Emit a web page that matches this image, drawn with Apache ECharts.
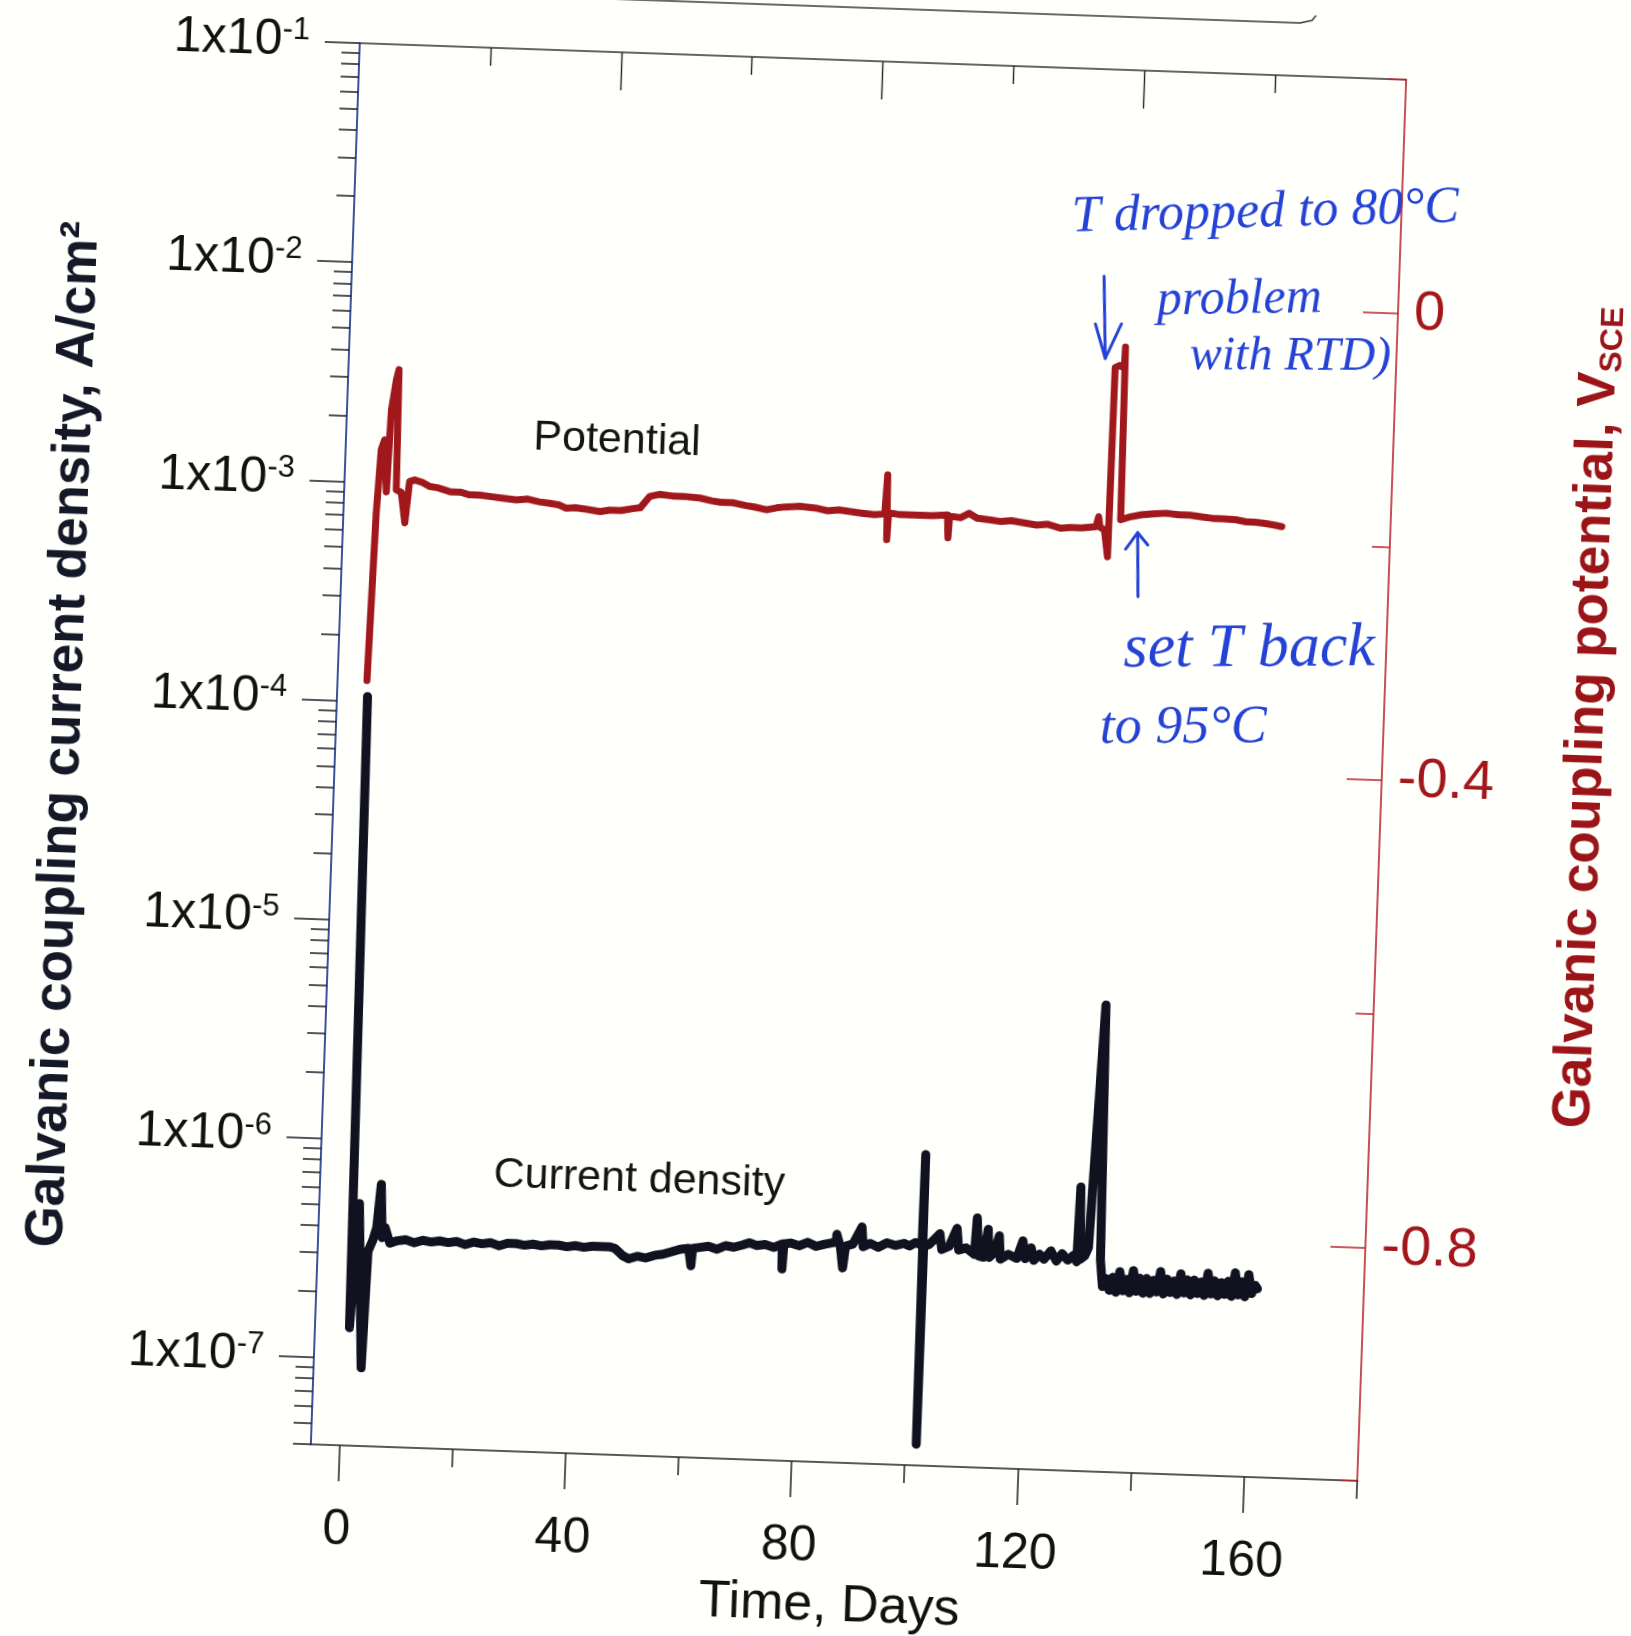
<!DOCTYPE html>
<html lang="en">
<head>
<meta charset="UTF-8"/>
<title>Galvanic coupling current and potential</title>
<script src="https://cdn.jsdelivr.net/npm/echarts@6/dist/echarts.min.js"></script>
<style>
    html, body { margin: 0; padding: 0; background: #fffffb; overflow: hidden; }
    /* the scanned page sits about 2 degrees clockwise */
    #main { position: absolute; left: 0; top: 0; width: 1631px; height: 1636px;
            transform: rotate(2deg); transform-origin: 858.5px 762px; }
</style>
</head>
<body>
<div id="main"></div>
<script type="text/javascript">
    // galvanic coupling current density, A/cm2
    var curDays = [0.4, 1.1, 2.1, 3.4, 3.9, 4.7, 5.3, 5.85, 6.3, 6.8, 7.7, 9, 10.5, 12, 13.5, 15, 16.5, 18, 19.5,
        21, 22.5, 24, 25.5, 27, 28.5, 30, 31.5, 33, 34.5, 36, 37.5, 39, 40.5, 42, 43.5, 45, 46.5, 47.5, 48.9, 50,
        51.5, 53, 54.5, 56, 57.5, 59, 60.5, 61.0, 61.2, 62.5, 64, 65.5, 67, 68.5, 70, 71.2, 72.5, 74, 75.5, 77.0,
        77.1, 77.3, 78.5, 80, 81.5, 83, 84.5, 86.5, 86.6, 87.3, 87.8, 88.2, 89.5, 91.0, 91.3, 92.5, 94, 95.5, 97,
        98.5, 99.5, 100.5, 101.7, 101.8, 101.9, 102.0, 103, 104.8, 105.2, 106.5, 107.8, 108.2, 109.5, 111, 111.3,
        111.7, 112.6, 113.3, 113.6, 114.5, 115.3, 115.6, 117, 118.5, 119.5, 120, 121, 121.5, 122.5, 123.3, 124.5,
        125.5, 126.5, 127.5, 128.5, 129.1, 129.4, 129.7, 130.5, 131.1, 132.7, 133.3, 133.8, 134.5, 135, 135.6,
        136.2, 136.8, 137.4, 138, 138.6, 139.2, 139.8, 140.4, 141, 141.6, 142.2, 142.8, 143.4, 144, 144.6, 145.2,
        145.8, 146.4, 147, 147.6, 148.2, 148.8, 149.4, 150, 150.6, 151.2, 151.8, 152.4, 153, 153.6, 154.2, 154.8,
        155.4, 156, 156.6, 157.2, 157.8, 158.4, 159, 159.6, 160.2, 160.8, 161.2]
    var curVals = [1.05e-4, 1.38e-7, 5.1e-7, 9.1e-8, 3.1e-7, 3.5e-7, 4.0e-7, 6.3e-7, 3.6e-7, 4.0e-7, 3.4e-7, 3.5e-7,
        3.55e-7, 3.45e-7, 3.55e-7, 3.5e-7, 3.55e-7, 3.5e-7, 3.55e-7, 3.45e-7, 3.55e-7, 3.5e-7, 3.55e-7, 3.45e-7, 3.55e-7,
        3.55e-7, 3.5e-7, 3.55e-7, 3.5e-7, 3.55e-7, 3.55e-7, 3.5e-7, 3.55e-7, 3.5e-7, 3.55e-7, 3.55e-7, 3.55e-7, 3.5e-7,
        3.25e-7, 3.15e-7, 3.25e-7, 3.2e-7, 3.3e-7, 3.35e-7, 3.45e-7, 3.55e-7, 3.6e-7, 3.0e-7, 3.6e-7, 3.65e-7, 3.7e-7,
        3.6e-7, 3.75e-7, 3.7e-7, 3.8e-7, 3.9e-7, 3.8e-7, 3.85e-7, 3.75e-7, 3.9e-7, 3.0e-7, 3.9e-7, 3.95e-7, 3.85e-7,
        4.0e-7, 3.85e-7, 3.95e-7, 4.05e-7, 4.4e-7, 3.85e-7, 3.1e-7, 3.9e-7, 4.0e-7, 4.8e-7, 3.9e-7, 4.05e-7, 3.9e-7,
        4.1e-7, 4.0e-7, 4.1e-7, 4.0e-7, 4.15e-7, 4.05e-7, 1.05e-6, 5.0e-8, 4.0e-7, 4.1e-7, 4.6e-7, 3.9e-7, 4.05e-7,
        4.9e-7, 3.9e-7, 4.0e-7, 3.75e-7, 5.5e-7, 3.7e-7, 3.65e-7, 4.9e-7, 3.65e-7, 3.85e-7, 4.6e-7, 3.6e-7, 3.8e-7,
        3.65e-7, 4.4e-7, 3.65e-7, 4.1e-7, 3.6e-7, 3.85e-7, 3.65e-7, 4.0e-7, 3.6e-7, 3.9e-7, 3.65e-7, 3.85e-7, 3.6e-7,
        7.9e-7, 3.7e-7, 3.85e-7, 4.2e-7, 5.4e-6, 3.7e-7, 2.8e-7, 3.05e-7, 2.7e-7, 3.1e-7, 2.65e-7, 3.3e-7, 2.7e-7,
        3.05e-7, 2.65e-7, 3.35e-7, 2.7e-7, 3.1e-7, 2.65e-7, 3.1e-7, 2.65e-7, 3.05e-7, 2.7e-7, 3.35e-7, 2.65e-7, 3.1e-7,
        2.7e-7, 3.05e-7, 2.65e-7, 3.3e-7, 2.7e-7, 3.1e-7, 2.65e-7, 3.1e-7, 2.7e-7, 3.05e-7, 2.65e-7, 3.35e-7, 2.7e-7,
        3.1e-7, 2.65e-7, 3.05e-7, 2.7e-7, 3.1e-7, 2.65e-7, 3.4e-7, 2.7e-7, 3.1e-7, 2.65e-7, 3.35e-7, 2.75e-7, 3.0e-7,
        2.9e-7]

    // galvanic coupling potential, V vs SCE
    var potDays = [0.2, 0.8, 1.3, 1.85, 2.45, 2.85, 3.55, 3.95, 4.2, 5.1, 5.9, 6.5, 7.4, 8.8, 10, 11.5, 13.7, 15.5,
        17, 19, 21, 23, 25.5, 27.5, 29.5, 31.4, 33, 34.3, 36, 38, 40.3, 42, 44, 46.1, 47.4, 49, 50.8, 53, 55, 57.9,
        60, 61.5, 63.7, 66, 67.5, 69.7, 71.5, 73, 75.6, 78.3, 80.5, 82.5, 84.5, 86.5, 88.8, 90.6, 90.9, 91.1, 91.3,
        93, 95, 96.9, 99, 101.7, 101.9, 102.1, 104, 105.5, 107, 109.3, 111, 113, 115.6, 117.5, 119.5, 121.8, 123.5,
        125.5, 128.0, 128.4, 128.7, 129.5, 130.2, 130.4, 131.2, 132.0, 132.1, 132.3, 134.1, 136, 138, 140.3, 142.5,
        144.5, 146.5, 148.5, 150.5, 152.7, 154.5, 156, 157.6, 159.5, 160.8]
    var potVals = [-0.345, -0.2015, -0.147, -0.1385, -0.183, -0.113, -0.087, -0.078, -0.181, -0.183, -0.209, -0.1735,
        -0.172, -0.174, -0.177, -0.178, -0.181, -0.181, -0.183, -0.183, -0.184, -0.185, -0.186, -0.185, -0.187,
        -0.188, -0.189, -0.1916, -0.191, -0.192, -0.1935, -0.192, -0.192, -0.190, -0.189, -0.179, -0.177, -0.178,
        -0.178, -0.179, -0.181, -0.182, -0.182, -0.184, -0.185, -0.187, -0.185, -0.184, -0.183, -0.184, -0.186,
        -0.185, -0.186, -0.187, -0.188, -0.187, -0.1535, -0.209, -0.186, -0.187, -0.187, -0.187, -0.187, -0.186,
        -0.2056, -0.187, -0.188, -0.184, -0.188, -0.189, -0.190, -0.189, -0.1907, -0.192, -0.191, -0.194, -0.193,
        -0.193, -0.1915, -0.183, -0.192, -0.194, -0.217, -0.055, -0.053, -0.055, -0.037, -0.185, -0.182, -0.180,
        -0.179, -0.178, -0.179, -0.179, -0.180, -0.181, -0.181, -0.1815, -0.183, -0.183, -0.1836, -0.185, -0.186]

    // tick positions
    var dayMajor = [0, 40, 80, 120, 160]
    var dayMinor = [20, 60, 100, 140, 180]
    var decades = [-7, -6, -5, -4, -3, -2, -1]
    var potMajor = [0, -0.4, -0.8]
    var potMinor = [0.2, -0.2, -0.6, -1.0]

    var logMin = Math.log10(4e-8)
    var decadeMinor = []
    for (var n = -8; n <= -2; n++) {
        for (var k = 2; k <= 9; k++) {
            var lv = Math.log10(k) + n
            if (lv >= logMin - 1e-9 && lv < -1) decadeMinor.push(lv)
        }
    }

    var FONT = '"Liberation Sans", Arial, sans-serif'
    var HAND = '"Liberation Serif", "DejaVu Serif", serif'
    var INK = '#2443d6'
    var RED = '#a3161c'

    function hand(text, x, y, size, rot) {
        return {
            type: 'text', x: x, y: y, rotation: rot,
            style: {
                text: text, fill: INK, font: 'italic ' + size + 'px ' + HAND,
                align: 'center', verticalAlign: 'middle', textAlign: 'center', textVerticalAlign: 'middle'
            }
        }
    }

    function printed(text, x, y) {
        return {
            type: 'text', x: x, y: y,
            style: {
                text: text, fill: '#141414', font: '43px ' + FONT,
                align: 'center', verticalAlign: 'middle', textAlign: 'center', textVerticalAlign: 'middle'
            }
        }
    }

    function pen(points, color, w) {
        return {
            type: 'polyline', shape: {points: points},
            style: {stroke: color, lineWidth: w, fill: null, lineCap: 'round', lineJoin: 'round'}
        }
    }

    var option = {
        animation: false,
        backgroundColor: '#fffffb',
        grid: {left: 335, top: 61, width: 1047, height: 1402, containLabel: false, outerBoundsMode: 'none'},
        xAxis: [{
            type: 'value', position: 'bottom', min: -5, max: 180,
            name: 'Time, Days', nameLocation: 'middle', nameGap: 118, nameMoveOverlap: false,
            nameTextStyle: {fontSize: 52, color: '#111', fontFamily: FONT},
            axisLine: {show: true, onZero: false, lineStyle: {color: '#222', width: 1.6}},
            axisTick: {show: true, customValues: dayMajor, length: 36, lineStyle: {color: '#222', width: 1.5}},
            axisLabel: {customValues: dayMajor, margin: 60, fontSize: 50, color: '#111', fontFamily: FONT},
            splitLine: {show: false}
        }, {
            type: 'value', position: 'bottom', min: -5, max: 180,
            axisLine: {show: false, onZero: false},
            axisTick: {show: true, customValues: dayMinor, length: 18, lineStyle: {color: '#222', width: 1.5}},
            axisLabel: {show: false},
            splitLine: {show: false}
        }, {
            type: 'value', position: 'top', min: 0, max: 8,
            axisLine: {show: true, onZero: false, lineStyle: {color: '#333', width: 1.6}},
            axisTick: {show: true, inside: true, customValues: [2, 4, 6], length: 38, lineStyle: {color: '#222', width: 1.4}},
            axisLabel: {show: false},
            splitLine: {show: false}
        }, {
            type: 'value', position: 'top', min: 0, max: 8,
            axisLine: {show: false, onZero: false},
            axisTick: {show: true, inside: true, customValues: [1, 3, 5, 7], length: 18, lineStyle: {color: '#222', width: 1.4}},
            axisLabel: {show: false},
            splitLine: {show: false}
        }],
        yAxis: [{
            // data axis for the current density
            type: 'log', position: 'left', min: 4e-8, max: 0.1,
            name: 'Galvanic coupling current density, A/cm\u00b2',
            nameLocation: 'middle', nameRotate: 90, nameGap: 244, nameMoveOverlap: false,
            nameTextStyle: {fontSize: 53, fontWeight: 'bold', color: '#151827', fontFamily: FONT},
            axisLine: {show: true, onZero: false, lineStyle: {color: '#24408e', width: 1.8}},
            axisTick: {show: false},
            axisLabel: {show: false},
            splitLine: {show: false},
            minorTick: {show: false}
        }, {
            type: 'value', position: 'left', min: logMin, max: -1,
            axisLine: {show: false, onZero: false},
            axisTick: {show: true, customValues: decades, length: 35, lineStyle: {color: '#1b1b2a', width: 1.5}},
            axisLabel: {
                customValues: decades, margin: 50,
                formatter: function (v) {
                    return '{b|1x10}{s|' + Math.round(v) + '}'
                },
                rich: {
                    b: {fontSize: 50, lineHeight: 52, color: '#111', fontFamily: FONT},
                    s: {fontSize: 31, lineHeight: 30, color: '#111', fontFamily: FONT, verticalAlign: 'top'}
                }
            },
            splitLine: {show: false}
        }, {
            type: 'value', position: 'left', min: logMin, max: -1,
            axisLine: {show: false, onZero: false},
            axisTick: {show: true, customValues: decadeMinor, length: 18, lineStyle: {color: '#1b1b2a', width: 1.5}},
            axisLabel: {show: false},
            splitLine: {show: false}
        }, {
            // potential axis
            type: 'value', position: 'right', min: -1.0, max: 0.2,
            name: '{a|Galvanic coupling potential, V}{s|SCE}',
            nameLocation: 'middle', nameRotate: 90, nameGap: 176, nameMoveOverlap: false,
            nameTextStyle: {
                padding: [0, 0, 0, 140],
                rich: {
                    a: {fontSize: 53, fontWeight: 'bold', color: '#9a1418', fontFamily: FONT, lineHeight: 56},
                    s: {fontSize: 32, fontWeight: 'bold', color: '#9a1418', fontFamily: FONT, verticalAlign: 'bottom', lineHeight: 34}
                }
            },
            axisLine: {show: true, onZero: false, lineStyle: {color: '#b8242b', width: 1.6}},
            axisTick: {show: true, inside: true, customValues: potMajor, length: 35, lineStyle: {color: '#b8242b', width: 1.5}},
            axisLabel: {customValues: potMajor, margin: 16, fontSize: 56, color: RED, fontFamily: FONT},
            splitLine: {show: false}
        }, {
            type: 'value', position: 'right', min: -1.0, max: 0.2,
            axisLine: {show: false, onZero: false},
            axisTick: {show: true, inside: true, customValues: potMinor, length: 18, lineStyle: {color: '#b8242b', width: 1.5}},
            axisLabel: {show: false},
            splitLine: {show: false}
        }],
        graphic: [
            pen([[250, 8], [1274, 8], [1286, 5], [1292, -3], [1294, -14], [1294, -40]], '#3a3a3a', 1.5),
            printed('Potential', 606, 449),
            printed('Current density', 654, 1187),
            hand('T dropped to 80\u00b0C', 1246, 199, 52, 0.06),
            hand('problem', 1223, 287, 50, 0.05),
            hand('with RTD)', 1276, 342, 48, 0.03),
            hand('set T back', 1245, 636, 62, 0.04),
            hand('to 95\u00b0C', 1182, 717, 54, 0.04),
            pen([[1087, 268], [1091, 350]], INK, 3),
            pen([[1080, 316], [1091, 350], [1106, 315]], INK, 3),
            pen([[1132, 587], [1129.5, 523]], INK, 3),
            pen([[1118, 540], [1129.5, 523], [1140, 535]], INK, 3)
        ],
        series: [{
            name: 'Current density', type: 'line', xAxisIndex: 0, yAxisIndex: 0,
            data: curDays.map(function (d, i) { return [d, curVals[i]] }),
            showSymbol: false, symbol: 'none', z: 3,
            lineStyle: {color: '#10121f', width: 9, join: 'round', cap: 'round'}
        }, {
            name: 'Potential', type: 'line', xAxisIndex: 0, yAxisIndex: 3,
            data: potDays.map(function (d, i) { return [d, potVals[i]] }),
            showSymbol: false, symbol: 'none', z: 2,
            lineStyle: {color: '#a0181c', width: 7, join: 'round', cap: 'round'}
        }]
    }

    var myChart = echarts.init(document.getElementById('main'))
    myChart.setOption(option)
</script>
</body>
</html>
